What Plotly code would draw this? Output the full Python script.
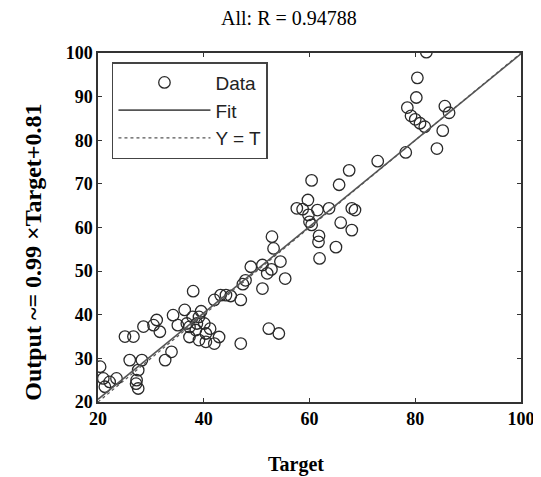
import plotly.graph_objects as go

target = [82.1, 80.4, 80.2, 78.5, 79.2, 80.9, 81.8, 80.0, 85.6, 86.4, 85.2, 84.1, 78.2,
          72.9, 67.5, 65.6, 60.4, 59.7, 57.6, 58.7, 59.8, 61.5, 63.7, 60.0, 60.4,
          68.0, 68.6, 65.9, 68.0, 61.8, 61.7, 65.0, 61.9, 52.9, 53.2, 54.5, 48.9,
          51.1, 52.0, 52.8, 55.4, 51.1, 47.9, 47.4, 47.0, 43.2, 44.2, 45.1, 42.0,
          38.0, 36.4, 34.2, 36.8, 35.1, 31.1, 30.5, 31.7, 28.6, 25.1, 26.7, 37.9,
          39.1, 38.7, 37.3, 38.5, 40.1, 37.3, 39.1, 40.4, 42.0, 42.9, 40.4, 41.2,
          39.5, 47.0, 52.3, 54.2, 33.9, 32.7, 26.0, 28.3, 27.6, 20.4, 21.0, 23.5,
          27.3, 27.6, 21.3, 22.2, 27.2]
output = [100.2, 94.3, 89.8, 87.5, 85.6, 83.9, 83.1, 84.8, 87.8, 86.3, 82.2, 78.1, 77.2,
          75.2, 73.1, 69.8, 70.8, 66.3, 64.4, 64.2, 62.9, 64.0, 64.4, 61.3, 60.6,
          64.4, 64.0, 61.1, 59.4, 58.1, 56.7, 55.5, 52.9, 57.9, 55.2, 52.2, 51.0,
          51.4, 49.5, 50.4, 48.3, 46.0, 47.9, 47.0, 43.4, 44.5, 44.5, 44.3, 43.4,
          45.4, 41.1, 39.9, 38.0, 37.6, 38.8, 37.6, 36.1, 37.3, 35.0, 35.0, 39.5,
          39.5, 38.0, 37.2, 36.5, 38.0, 34.9, 34.2, 33.8, 33.4, 34.9, 35.7, 36.8,
          40.8, 33.4, 36.8, 35.7, 31.5, 29.6, 29.6, 29.6, 27.3, 28.1, 25.4, 25.4,
          25.0, 23.1, 23.5, 24.6, 24.2]

line_x = [20, 100]
fit_slope = 0.99
fit_intercept = 0.81
fit_y = [fit_slope * v + fit_intercept for v in line_x]

x_ticks = [20, 40, 60, 80, 100]
y_ticks = [20, 30, 40, 50, 60, 70, 80, 90, 100]

serif = "Liberation Serif, Times New Roman, serif"
sans = "Liberation Sans, Arial, sans-serif"

fig = go.Figure()
fig.add_trace(go.Scatter(
    x=target, y=output, mode="markers", name="Data", legendgroup="a",
    marker=dict(symbol="circle-open", size=11.5, color="#2a2a2a", line=dict(width=1.3)),
))
fig.add_trace(go.Scatter(
    x=line_x, y=fit_y, mode="lines", name="Fit", legendgroup="b",
    line=dict(color="#555555", width=1.6),
))
fig.add_trace(go.Scatter(
    x=line_x, y=line_x, mode="lines", name="Y = T", legendgroup="c",
    line=dict(color="#555555", width=1.2, dash="dot"),
))

axis_common = dict(
    showgrid=False, zeroline=False, showline=True, linecolor="#333333", linewidth=1.5,
    mirror="ticks", ticks="inside", ticklen=4, tickcolor="#333333", automargin=False,
    tickfont=dict(family=serif, size=18, color="black", weight="bold"),
)

# page has an 8px body margin, so the figure is 8px smaller than the window
fig.update_layout(
    width=533, height=469,
    margin=dict(l=90, r=20, t=45, b=75),
    paper_bgcolor="white", plot_bgcolor="white",
    title=dict(text="All: R = 0.94788", x=0.527, xanchor="center", y=0.979, yanchor="middle",
               font=dict(family=serif, size=20, color="black")),
    xaxis=dict(range=[20, 100], tickvals=x_ticks, ticktext=[str(v) for v in x_ticks],
               **axis_common),
    yaxis=dict(range=[20, 100], tickvals=y_ticks, ticktext=[str(v) for v in y_ticks],
               **axis_common),
    showlegend=True,
    legend=dict(x=0.033, y=0.974, xanchor="left", yanchor="top",
                bgcolor="white", bordercolor="#444444", borderwidth=1.5,
                font=dict(family=sans, size=19, color="#222222"),
                itemwidth=92, traceorder="grouped", tracegroupgap=0),
    annotations=[
        dict(text="Target", xref="paper", yref="paper", x=0.468, y=-0.18,
             xanchor="center", yanchor="middle", showarrow=False,
             font=dict(family=serif, size=20, color="black", weight="bold")),
        dict(text="Output ~= 0.99 ×Target+0.81", xref="paper", yref="paper",
             x=-0.154, y=0.43, xanchor="center", yanchor="middle", textangle=-90,
             showarrow=False,
             font=dict(family=serif, size=24, color="black", weight="bold")),
    ],
)

fig.write_html("out.html")
